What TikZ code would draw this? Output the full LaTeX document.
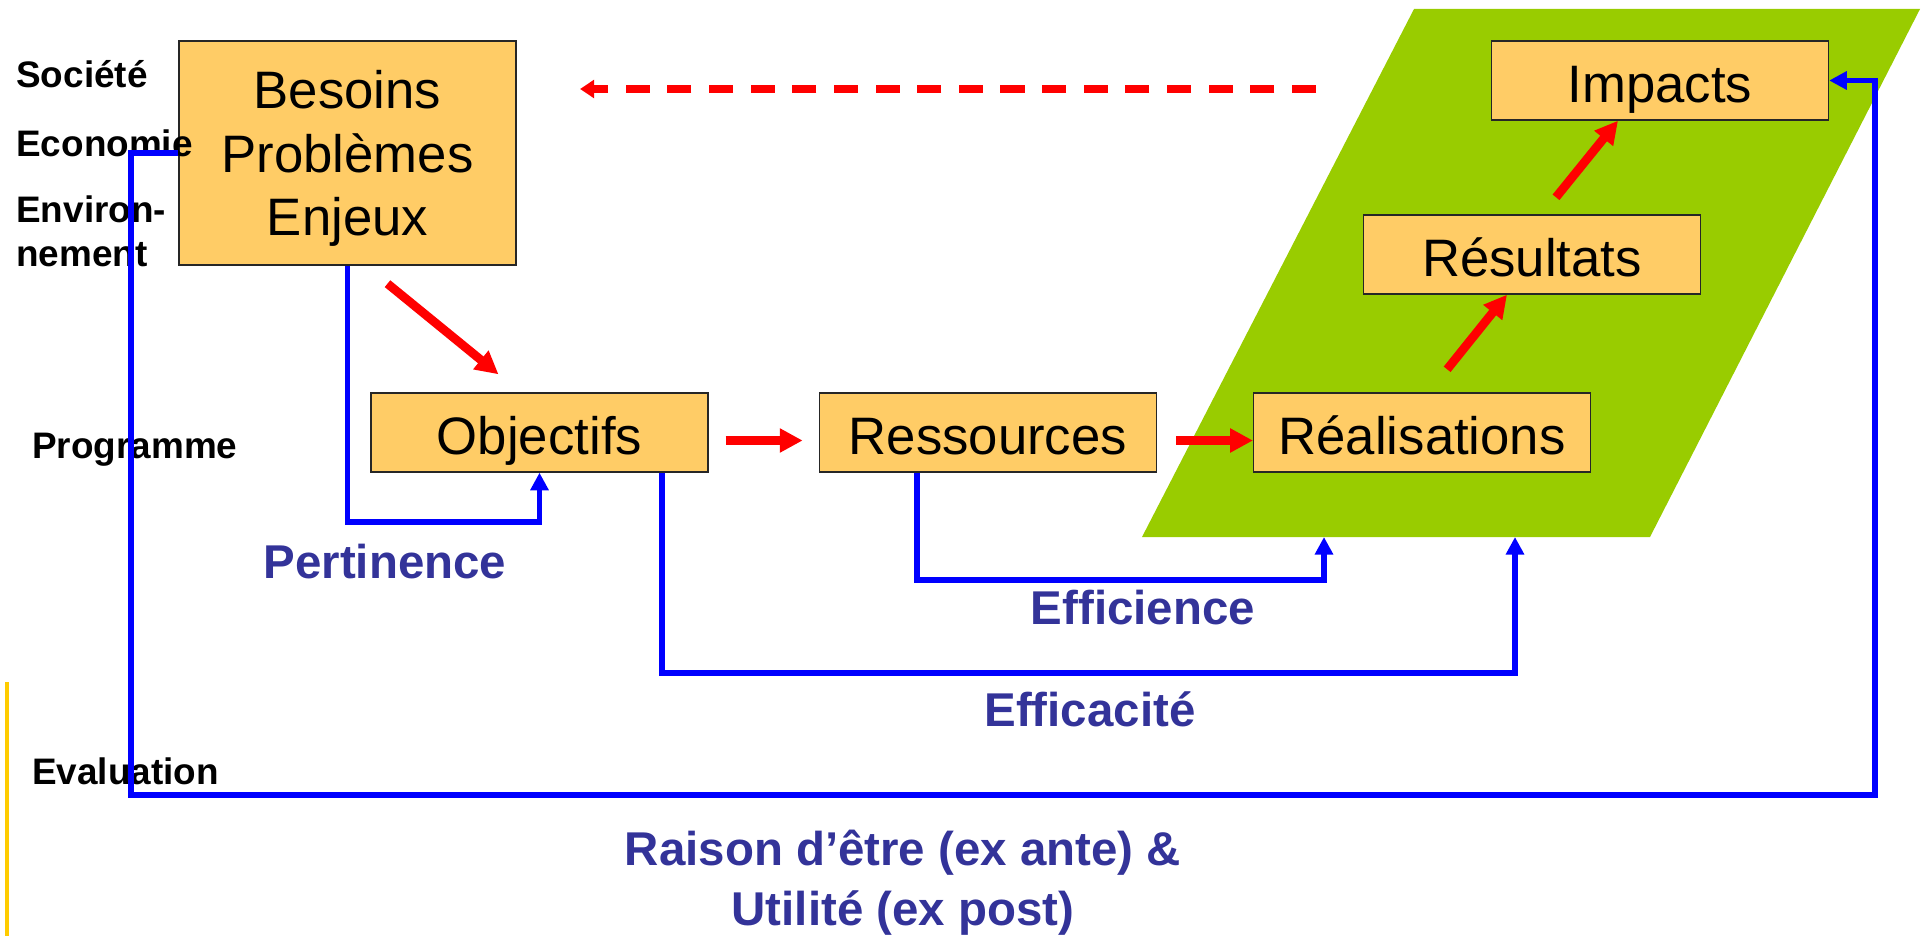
\documentclass[tikz,border=0pt]{standalone}
\usepackage{fontspec}
\setmainfont{Liberation Sans}
\usetikzlibrary{shapes,arrows.meta,positioning,calc}

\definecolor{boxfill}{RGB}{255,204,102}
\definecolor{zonegreen}{RGB}{153,204,0}
\definecolor{critblue}{RGB}{51,51,153}
\definecolor{linkblue}{RGB}{0,0,255}
\definecolor{flowred}{RGB}{255,0,0}
\definecolor{edgeyellow}{RGB}{255,204,0}

\begin{document}
\begin{tikzpicture}[x=0.02cm, y=-0.02cm, >=Triangle,
        box/.style={rectangle, draw=black!85, fill=boxfill, line width=0.8pt, minimum width=6.74cm, minimum height=1.58cm, inner sep=0pt, text height=25pt, text depth=0pt, align=center, font=\fontsize{30}{36}\selectfont},
        sectorlabel/.style={anchor=west, inner sep=0pt, align=left, font=\fontsize{21}{25}\selectfont\bfseries},
        crit/.style={inner sep=0pt, align=center, text=critblue, font=\fontsize{27}{34}\selectfont\bfseries},
        flow/.style={draw=flowred, line width=5pt, -{Triangle[length=13pt, width=13pt]}},
        evalline/.style={draw=linkblue, line width=3.4pt, -{Triangle[length=10pt, width=10pt]}}]
        \useasboundingbox (0,0) rectangle (1927,936);

        % Green zone
        \fill[zonegreen] (1142,537) -- (1414,9) -- (1920,9) -- (1650,537) -- cycle;
        \coordinate (effbas) at (1324,537);
        \coordinate (efcbas) at (1515,537);

        % Yellow edge
        \draw[edgeyellow, line width=2.8pt] (7,682) -- (7,936);

        % Nodes
        \node[box, text height=, minimum height=4.48cm] (besoins) at (347.5,153) {Besoins\\Probl\`emes\\Enjeux};
        \node[box] (objectifs) at (539.5,432.5) {Objectifs};
        \node[box, right=2.2cm of objectifs] (ressources) {Ressources};
        \node[box, right=1.92cm of ressources] (realisations) {R\'ealisations};
        \node[box] (resultats) at (1532,254.5) {R\'esultats};
        \node[box] (impacts) at (1660,80.5) {Impacts};

        % Side labels
        \node[sectorlabel] (societe) at (16,74) {Soci\'et\'e};
        \node[sectorlabel] (economie) at (16,143) {Economie};
        \node[sectorlabel] (environnement) at (16,231) {Environ-\\nement};
        \node[sectorlabel] (programme) at (32,450) {Programme};
        \node[sectorlabel] (evaluation) at (32,771) {Evaluation};

        % Red flow
        \draw[flow] ($(besoins.south)+(40,18)$) -- ($(objectifs.north)+(-41,-18)$);
        \draw[flow] ($(objectifs.east)+(17,8)$) -- ($(ressources.west)+(-16,8)$);
        \draw[flow] ($(ressources.east)+(19,8)$) -- ($(realisations.west)+(0,8)$);
        \draw[flow] ($(realisations.north)+(25,-23)$) -- ($(resultats.south)+(-25,0)$);
        \draw[flow] ($(resultats.north)+(24,-17)$) -- ($(impacts.south)+(-42,0)$);

        % Dashed return
        \coordinate (retourdebut) at (1316,89);
        \coordinate (retourfin) at (580,89);
        \draw[flowred, line width=4pt, dash pattern=on 13.7pt off 10pt, -{Triangle[length=8pt, width=10pt]}] (retourdebut) -- (retourfin);

        % Evaluation criteria
        \draw[evalline] (besoins.south) -- ++(0,256) -| (objectifs.south);
        \draw[evalline] ($(ressources.south west)+(98,0)$) -- ++(0,107) -| (effbas);
        \draw[evalline] ($(objectifs.south east)+(-47,0)$) -- ++(0,200) -| (efcbas);
        \coordinate (raisonbas) at (131,795);
        \coordinate (raisondroit) at (1875,795);
        \draw[evalline] (besoins.west) -| (raisonbas) -- (raisondroit) |- (impacts.east);

        \node[crit] (pertinence) at (385,562) {Pertinence};
        \node[crit] (efficience) at (1143,608) {Efficience};
        \node[crit] (efficacite) at (1090,709) {Efficacit\'e};
        \node[crit] (raison) at (903,883) {Raison d'\^etre (ex ante) \&\\Utilit\'e (ex post)};
    \end{tikzpicture}
\end{document}
